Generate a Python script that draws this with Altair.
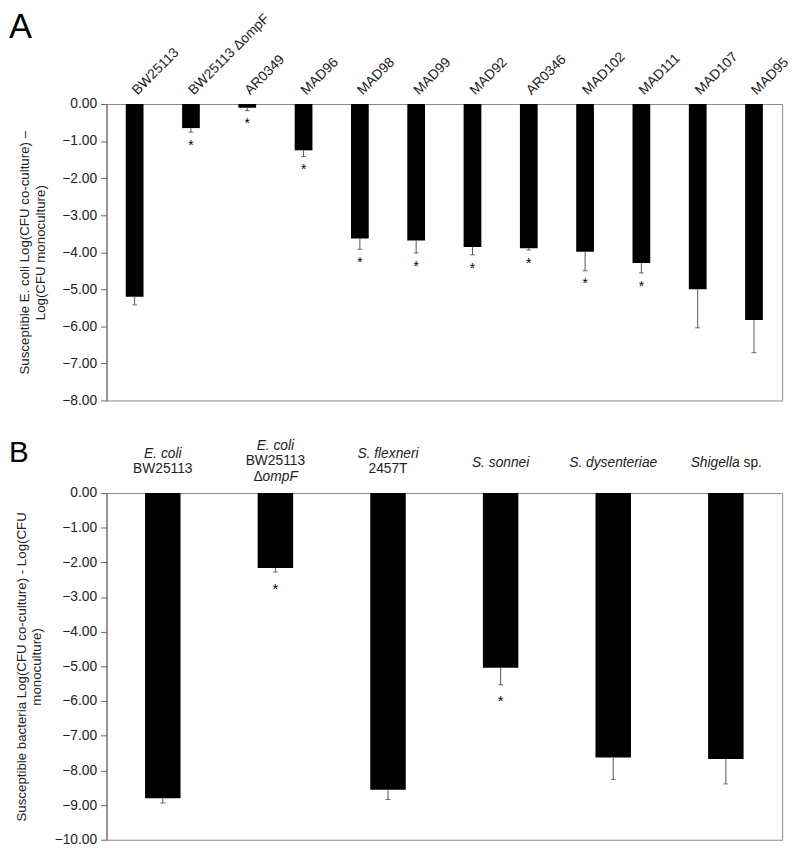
import altair as alt
import pandas as pd

# ---------------- Panel A data ----------------
strainsA = ["BW25113", "BW25113 ΔompF", "AR0349", "MAD96", "MAD98", "MAD99",
            "MAD92", "AR0346", "MAD102", "MAD111", "MAD107", "MAD95"]
meanA = [-5.20, -0.65, -0.10, -1.25, -3.63, -3.68, -3.86, -3.89, -3.99, -4.29, -5.00, -5.83]
errA = [0.22, 0.11, 0.08, 0.17, 0.29, 0.34, 0.21, 0.05, 0.51, 0.27, 1.04, 0.88]
sigA = [0, 1, 1, 1, 1, 1, 1, 1, 1, 1, 0, 0]
ticksA = [-8, -7, -6, -5, -4, -3, -2, -1, 0]

# ---------------- Panel B data ----------------
catsB = ["E. coli BW25113", "E. coli BW25113 ΔompF", "S. flexneri 2457T",
         "S. sonnei", "S. dysenteriae", "Shigella sp."]
meanB = [-8.80, -2.16, -8.56, -5.04, -7.63, -7.67]
errB = [0.14, 0.12, 0.28, 0.49, 0.63, 0.72]
sigB = [0, 1, 0, 1, 0, 0]
ticksB = [-10, -9, -8, -7, -6, -5, -4, -3, -2, -1, 0]

# label pieces for panel B
labelCat = ["E. coli BW25113", "E. coli BW25113",
            "E. coli BW25113 ΔompF", "E. coli BW25113 ΔompF", "E. coli BW25113 ΔompF", "E. coli BW25113 ΔompF",
            "S. flexneri 2457T", "S. flexneri 2457T",
            "S. sonnei", "S. dysenteriae", "Shigella sp.", "Shigella sp."]
labelText = ["E. coli", "BW25113",
             "E. coli", "BW25113", "Δ", "ompF",
             "S. flexneri", "2457T",
             "S. sonnei", "S. dysenteriae", "Shigella", "sp."]
labelItalic = [1, 0, 1, 0, 0, 1, 1, 0, 1, 1, 1, 0]
labelLine = [0, 1, 0, 1, 2, 2, 0, 1, 0, 0, 0, 0]
labelLines = [2, 2, 3, 3, 3, 3, 2, 2, 1, 1, 1, 1]
labelPiece = ["c", "c", "c", "c", "dl", "dr", "c", "c", "c", "c", "sl", "sr"]

FONT = "Liberation Sans"
AX = "#666666"

dfA = pd.DataFrame({"strain": strainsA, "mean": meanA, "err": errA, "sig": sigA})
dfA["low"] = dfA["mean"] - dfA["err"]

dfB = pd.DataFrame({"cat": catsB, "mean": meanB, "err": errB, "sig": sigB})
dfB["low"] = dfB["mean"] - dfB["err"]

dfL = pd.DataFrame({"cat": labelCat, "text": labelText, "italic": labelItalic,
                    "line": labelLine, "n": labelLines, "piece": labelPiece})


def yaxis(title, ticks, tpad):
    return alt.Axis(values=ticks, format=".2f", grid=False, domainColor=AX, tickColor=AX,
                    tickSize=6, labelPadding=4, labelFontSize=14, labelFont=FONT,
                    labelColor="#222222", title=title, titleFont=FONT, titleFontSize=13.5,
                    titleFontWeight="normal", titleColor="#222222", titlePadding=tpad)


# ---------------- Panel A ----------------
scaleXA = alt.Scale(paddingInner=0.685, paddingOuter=0.3425)
axisXA = alt.Axis(orient="top", labelAngle=-45, labelAlign="left", labelBaseline="middle",
                  ticks=False, domain=False, labelPadding=12, labelFontSize=14,
                  labelFont=FONT, labelColor="#222222", title=None)
scaleYA = alt.Scale(domain=[-8, 0], nice=False, zero=False)
axisYA = yaxis(["Susceptible E. coli Log(CFU co-culture) –", "Log(CFU monoculture)"], ticksA, 15)


def xA():
    return alt.X("strain:N", sort=strainsA, scale=scaleXA, axis=axisXA)


def yA(f):
    return alt.Y(f + ":Q", scale=scaleYA, axis=axisYA)


baseA = alt.Chart(dfA)
barsA = baseA.mark_bar(color="black").encode(x=xA(), y=yA("mean"))
ruleA = baseA.mark_rule(color="#555555", strokeWidth=1).encode(x=xA(), y=yA("mean"), y2="low:Q")
capA = baseA.mark_tick(color="#333333", size=5, thickness=1).encode(x=xA(), y=yA("low"))
starA = baseA.transform_filter("datum.sig == 1").mark_text(
    text="*", dy=14, font=FONT, fontSize=14, color="black").encode(x=xA(), y=yA("low"))
letterA = alt.Chart(pd.DataFrame({"t": ["A"]})).mark_text(
    font=FONT, fontSize=35, align="left", baseline="top", color="black").encode(
    text="t:N", x=alt.value(-99), y=alt.value(-95))

chartA = alt.layer(barsA, ruleA, capA, starA, letterA).properties(width=686, height=301)

# ---------------- Panel B ----------------
scaleXB = alt.Scale(paddingInner=0.685, paddingOuter=0.3425)
scaleYB = alt.Scale(domain=[-10, 0], nice=False, zero=False)
axisYB = yaxis(["Susceptible bacteria Log(CFU co-culture) - Log(CFU", "monoculture)"], ticksB, 11)


def xB():
    return alt.X("cat:N", sort=catsB, scale=scaleXB, axis=None)


def yB(f):
    return alt.Y(f + ":Q", scale=scaleYB, axis=axisYB)


baseB = alt.Chart(dfB)
barsB = baseB.mark_bar(color="black").encode(x=xB(), y=yB("mean"))
ruleB = baseB.mark_rule(color="#555555", strokeWidth=1).encode(x=xB(), y=yB("mean"), y2="low:Q")
capB = baseB.mark_tick(color="#333333", size=5, thickness=1).encode(x=xB(), y=yB("low"))
starB = baseB.transform_filter("datum.sig == 1").mark_text(
    text="*", dy=17, font=FONT, fontSize=15, color="black").encode(x=xB(), y=yB("low"))
letterB = alt.Chart(pd.DataFrame({"t": ["B"]})).mark_text(
    font=FONT, fontSize=30, align="left", baseline="top", color="black").encode(
    text="t:N", x=alt.value(-99), y=alt.value(-56))

labelLayers = []
dfL["yoff"] = dfL.apply(lambda r: -32 + (r["line"] - (r["n"] - 1) / 2) * 16 if r["n"] > 1 else -30, axis=1)
pieceAlign = {"c": ("center", 0), "dl": ("right", -13), "dr": ("left", -13),
              "sl": ("right", 14), "sr": ("left", 18)}
for (yoff, ital, piece), grp in dfL.groupby(["yoff", "italic", "piece"]):
    al, dx = pieceAlign[piece]
    labelLayers.append(
        alt.Chart(grp).mark_text(font=FONT, fontSize=14, color="#222222",
                                 fontStyle="italic" if ital else "normal",
                                 align=al, dx=dx, baseline="middle").encode(
            x=alt.X("cat:N", sort=catsB, scale=scaleXB, axis=None),
            y=alt.value(float(yoff)), text="text:N"))

chartB = alt.layer(barsB, ruleB, capB, starB, letterB, *labelLayers).properties(width=686, height=352)

chart = alt.vconcat(chartA, chartB, spacing=29).properties(
    padding={"top": -5, "left": 0, "right": 0, "bottom": 0}).configure_view(
    stroke="#888888", strokeWidth=1)

chart.save("out.html", embed_options={"renderer": "svg", "actions": False})
